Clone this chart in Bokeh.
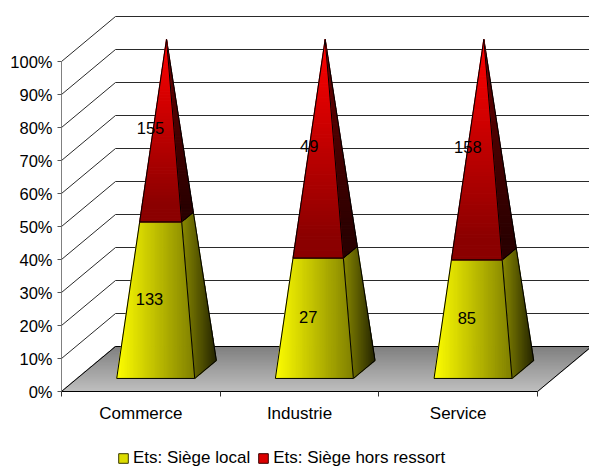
from bokeh.plotting import figure
from bokeh.models import (Range1d, LinearAxis, FixedTicker, Legend, LegendItem)
from bokeh.core.properties import value
from bokeh.embed import file_html
from bokeh.resources import INLINE

categories = ["Commerce", "Industrie", "Service"]
siege_local = [133, 27, 85]
siege_hors = [155, 49, 158]
series_names = ["Ets: Siège local", "Ets: Siège hors ressort"]
pct_ticks = [0, 10, 20, 30, 40, 50, 60, 70, 80, 90, 100]
pct_labels = ["0%", "10%", "20%", "30%", "40%", "50%", "60%", "70%", "80%", "90%", "100%"]

FONT = "Liberation Sans"
PX_X = 476 / 3          # pixels per category
PX_Y = 3.3              # pixels per percentage point
DX = 54 / PX_X          # depth shift, x units
DY = 45 / PX_Y          # depth shift, y units

p = figure(width=589, height=468, output_backend="svg", toolbar_location=None,
           x_range=Range1d(-61 / PX_X, 528 / PX_X), y_range=Range1d(-77 / PX_Y, 391 / PX_Y),
           min_border_left=0, min_border_right=0, min_border_top=0, min_border_bottom=0,
           x_axis_type=None, y_axis_type=None, outline_line_color=None,
           background_fill_color="white", border_fill_color="white")
p.grid.visible = False


def proj(u, v, d):
    return u + d * DX, v + d * DY


def clip(poly, axis, lo, hi):
    def half(pts, keep_low, lim):
        out = []
        for i in range(len(pts)):
            a, b = pts[i], pts[(i + 1) % len(pts)]
            ia = a[axis] <= lim if keep_low else a[axis] >= lim
            ib = b[axis] <= lim if keep_low else b[axis] >= lim
            if ia:
                out.append(a)
            if ia != ib:
                t = (lim - a[axis]) / (b[axis] - a[axis])
                out.append((a[0] + t * (b[0] - a[0]), a[1] + t * (b[1] - a[1])))
        return out
    pts = half(poly, True, hi)
    return half(pts, False, lo) if pts else pts


def mix(c0, c1, t):
    t = max(0, min(1, t))
    return "#%02x%02x%02x" % tuple(int(round(a + (b - a) * t)) for a, b in zip(c0, c1))


def gradient(poly, axis, c0, c1, steps, hold=0.0):
    """Fill a polygon with bands; colour runs from c0 at the low end of axis to c1 at the high end."""
    vals = [q[axis] for q in poly]
    lo, hi = min(vals), max(vals)
    xs, ys, cs = [], [], []
    for i in range(steps):
        a = lo + (hi - lo) * i / steps
        b = lo + (hi - lo) * (i + 1) / steps
        piece = clip(poly, axis, a, b)
        if len(piece) < 3:
            continue
        t = (i + .5) / steps
        xs.append([q[0] for q in piece])
        ys.append([q[1] for q in piece])
        cs.append(mix(c0, c1, (t - hold) / (1 - hold)))
    p.patches(xs, ys, fill_color=cs, line_color=cs, line_width=1.2)
    p.patch([q[0] for q in poly] + [poly[0][0]], [q[1] for q in poly] + [poly[0][1]],
            fill_color=None, line_color="black", line_width=1)


# back wall and left wall lines
p.multi_line([[proj(0, t, 0)[0], proj(0, t, 1)[0], proj(3, t, 1)[0]] for t in pct_ticks],
             [[proj(0, t, 0)[1], proj(0, t, 1)[1], proj(3, t, 1)[1]] for t in pct_ticks],
             line_color="#2a2a2a", line_width=1)

# floor
floor = [proj(0, 0, 0), proj(3, 0, 0), proj(3, 0, 1), proj(0, 0, 1)]
gradient(floor, 1, (0xc0, 0xc0, 0xc0), (0x80, 0x80, 0x80), 44)

# pyramids
W = 78 / PX_X
D0, D1 = 0.29, 0.69
DM = (D0 + D1) / 2
for i, (a, b) in enumerate(zip(siege_local, siege_hors)):
    c = i + 0.5 - 0.005
    share = 100 * a / (a + b)

    def fl(h):
        k = 1 - h / 100
        return proj(c - W / 2 * k, h, DM - (DM - D0) * k)

    def fr(h):
        k = 1 - h / 100
        return proj(c + W / 2 * k, h, DM - (DM - D0) * k)

    def br(h):
        k = 1 - h / 100
        return proj(c + W / 2 * k, h, DM + (D1 - DM) * k)

    gradient([fr(0), br(0), br(share), fr(share)], 0, (0x8b, 0x8b, 0x00), (0x26, 0x26, 0x00), 30)
    gradient([fr(share), br(share), br(100)], 1, (0x2a, 0x00, 0x00), (0x6a, 0x00, 0x00), 60, hold=0.1)
    gradient([fl(0), fr(0), fr(share), fl(share)], 0, (0xff, 0xff, 0x00), (0x80, 0x80, 0x00), 60)
    gradient([fl(share), fr(share), fr(100)], 1, (0x8b, 0x00, 0x00), (0xff, 0x00, 0x00), 60, hold=0.1)

    lx, ly = proj(c, share / 2, 0.36)
    ux, uy = proj(c, (share + 100) / 2, 0.49)
    p.text([lx], [ly], text=[str(a)], x_offset=-10, text_align="center", text_baseline="middle",
           text_font=value(FONT), text_font_size="16.5px", text_color="#000000")
    p.text([ux], [uy], text=[str(b)], x_offset=-16, text_align="center", text_baseline="middle",
           text_font=value(FONT), text_font_size="16.5px", text_color="#000000")

# axes
yaxis = LinearAxis(ticker=FixedTicker(ticks=pct_ticks), bounds=(0, 100), fixed_location=0,
                   major_label_overrides={t: s for t, s in zip(pct_ticks, pct_labels)},
                   axis_line_color="#808080", major_tick_line_color="#555555",
                   major_tick_out=4, major_tick_in=0, minor_tick_line_color=None,
                   major_label_standoff=5, major_label_text_font=FONT,
                   major_label_text_font_size="16.5px", major_label_text_color="#000000")
p.add_layout(yaxis, "left")

centers = [k + .5 for k in range(len(categories))]
xaxis = LinearAxis(ticker=FixedTicker(ticks=centers, minor_ticks=[0, 1, 2, 3]), bounds=(0, 3), fixed_location=0,
                   major_label_overrides={t: s for t, s in zip(centers, categories)},
                   axis_line_color="black", major_tick_line_color=None,
                   minor_tick_line_color="#333333", minor_tick_out=5, minor_tick_in=0,
                   major_tick_out=0, major_tick_in=0,
                   major_label_standoff=7, major_label_text_font=FONT,
                   major_label_text_font_size="17px", major_label_text_color="#000000")
p.add_layout(xaxis, "below")

# legend
nan = float("nan")
k1 = p.quad(left=[nan], right=[nan], top=[nan], bottom=[nan], fill_color="#dcdc00", line_color="#3a3a00")
k2 = p.quad(left=[nan], right=[nan], top=[nan], bottom=[nan], fill_color="#dc0000", line_color="#3a0000")
legend = Legend(items=[LegendItem(label=series_names[0], renderers=[k1]),
                       LegendItem(label=series_names[1], renderers=[k2])],
                orientation="horizontal", location=(117, 0), border_line_color=None,
                background_fill_alpha=0, label_text_font=FONT, label_text_font_size="17px",
                label_text_color="#000000", glyph_width=12, glyph_height=12, label_height=14,
                label_standoff=4, spacing=7, padding=0, margin=0)
p.add_layout(legend, "center")

open("out.html", "w").write(file_html(p, INLINE))
